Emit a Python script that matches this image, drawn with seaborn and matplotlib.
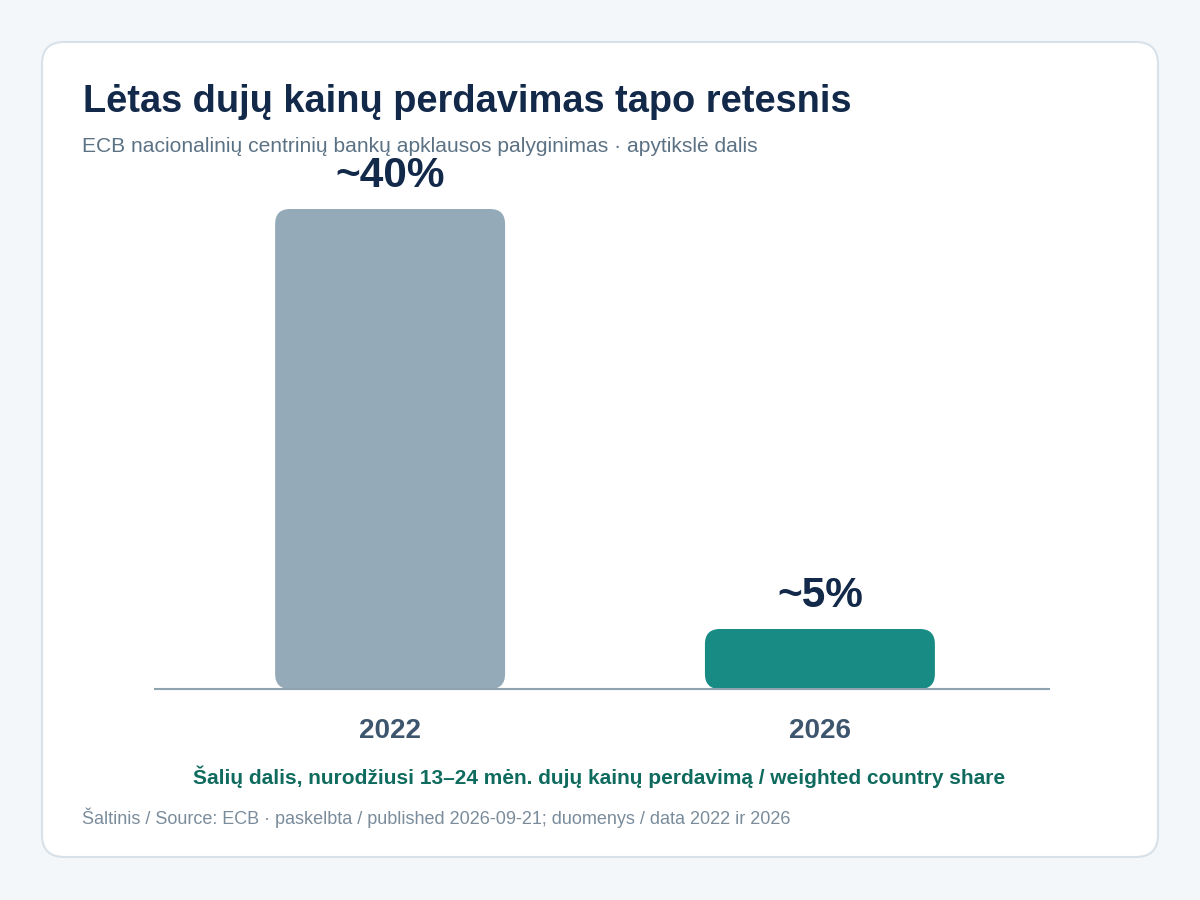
import matplotlib
matplotlib.use("Agg")
import matplotlib.pyplot as plt
from matplotlib.patches import FancyBboxPatch
import seaborn as sns
import pandas as pd

# ---- data ----
years = ["2022", "2026"]
shares = [40, 5]
value_labels = ["~40%", "~5%"]
bar_colors = ["#94aab8", "#178b84"]

title = "Lėtas dujų kainų perdavimas tapo retesnis"
subtitle = "ECB nacionalinių centrinių bankų apklausos palyginimas · apytikslė dalis"
xlabel = "Šalių dalis, nurodžiusi 13–24 mėn. dujų kainų perdavimą / weighted country share"
source = "Šaltinis / Source: ECB · paskelbta / published 2026-09-21; duomenys / data 2022 ir 2026"

sns.set_theme(style="white")
plt.rcParams["font.family"] = ["Liberation Sans", "DejaVu Sans"]

W, H = 1200, 900
fig = plt.figure(figsize=(W / 100, H / 100), dpi=100)
fig.patch.set_facecolor("#f4f7fa")

# card
card = FancyBboxPatch((42 / W, 1 - 857 / H), (1158 - 42) / W, (857 - 42) / H,
                      boxstyle="round,pad=0,rounding_size=%f" % (22 / W),
                      mutation_aspect=W / H,
                      transform=fig.transFigure, facecolor="white",
                      edgecolor="#d8e1e8", linewidth=1.5, zorder=-5)
fig.patches.append(card)

# axes placement in pixels
left, right, bottom, top = 155, 1049, 689, 160
ax = fig.add_axes([left / W, 1 - bottom / H, (right - left) / W, (bottom - top) / H])
ax.set_facecolor("none")
ax.set_zorder(1)

df = pd.DataFrame({"year": years, "share": shares})
sns.barplot(data=df, x="year", y="share", hue="year", palette=bar_colors,
            width=0.535, legend=False, ax=ax, saturation=1)

ax.set_xlim(-0.547, 1.533)
ax.set_ylim(0, (bottom - top) / 12.0)

# replace bars with rounded versions
px_per_x = (right - left) / (ax.get_xlim()[1] - ax.get_xlim()[0])
px_per_y = (bottom - top) / (ax.get_ylim()[1] - ax.get_ylim()[0])
radius_px = 15
for p, c in zip(list(ax.patches), bar_colors):
    x0, y0 = p.get_x(), p.get_y()
    w, h = p.get_width(), p.get_height()
    p.set_visible(False)
    rb = FancyBboxPatch((x0, y0), w, h,
                        boxstyle="round,pad=0,rounding_size=%f" % (radius_px / px_per_x),
                        mutation_aspect=px_per_x / px_per_y,
                        facecolor=c, edgecolor="none", zorder=2)
    ax.add_patch(rb)

# value labels
for i, (v, lab) in enumerate(zip(shares, value_labels)):
    ax.annotate(lab, (i, v), xytext=(0, 16), textcoords="offset points",
                ha="center", va="baseline", fontsize=30.5, fontweight="bold",
                color="#12294a", zorder=3, annotation_clip=False)

sns.despine(ax=ax, left=True, top=True, right=True)
ax.spines["bottom"].set_color("#8ea2b0")
ax.spines["bottom"].set_linewidth(1.5)
ax.set_yticks([])
ax.set_ylabel("")
ax.set_xlabel("")
ax.tick_params(axis="x", length=0, pad=21)
for t in ax.get_xticklabels():
    t.set_fontsize(20)
    t.set_fontweight("bold")
    t.set_color("#3d566e")

fig.text(599 / W, 1 - 777 / H, xlabel, ha="center", va="center",
         fontsize=15, fontweight="bold", color="#0f6b5e")
fig.text(83 / W, 1 - 102 / H, title, ha="left", va="center",
         fontsize=27.4, fontweight="bold", color="#12294a")
fig.text(82 / W, 1 - 146 / H, subtitle, ha="left", va="center",
         fontsize=15.1, color="#5b7285")
fig.text(82 / W, 1 - 818 / H, source, ha="left", va="center",
         fontsize=13, color="#7a8c9b")

fig.savefig("out.png", dpi=100, facecolor=fig.get_facecolor())
